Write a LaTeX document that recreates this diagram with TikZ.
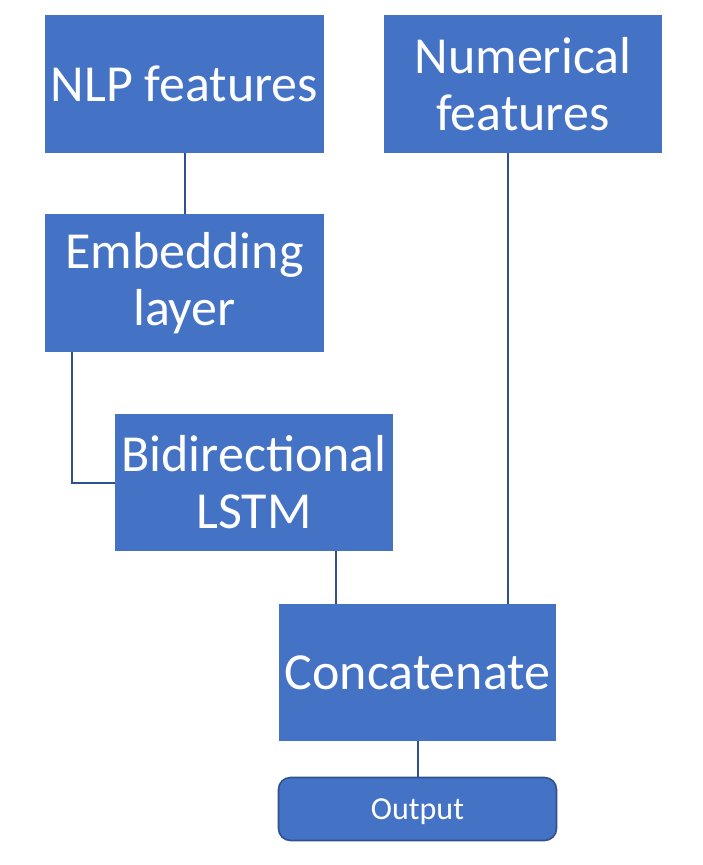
\documentclass[tikz,border=0pt]{standalone}
\usepackage{fontspec}
\setmainfont{Carlito}
\definecolor{boxblue}{HTML}{4472C4}
\definecolor{lineblue}{HTML}{2F528F}
\begin{document}
\begin{tikzpicture}[x=0.75pt,y=-0.75pt,
  box/.style={fill=boxblue, draw=none, text=white, align=center, inner sep=0pt,
    font=\fontsize{39pt}{42.75pt}\selectfont},
  outbox/.style={fill=boxblue, draw=lineblue, line width=1.2pt, rounded corners=9pt,
    text=white, align=center, inner sep=0pt, font=\fontsize{24pt}{28pt}\selectfont},
  link/.style={draw=lineblue, line width=1.5pt}]
\useasboundingbox (0,0) rectangle (703,865);
\node[box, minimum width=209.25pt, minimum height=103.5pt] (nlp) at (184.5,84) {NLP features};
\node[box, minimum width=208.5pt, minimum height=103.5pt] (num) at (523,84) {Numerical\\features};
\node[box, minimum width=209.25pt, minimum height=103.5pt] (emb) at (184.5,283) {Embedding\\layer};
\node[box, minimum width=208.5pt, minimum height=102.75pt] (lstm) at (254,482.5) {Bidirectional\\LSTM};
\node[box, minimum width=207.75pt, minimum height=102.75pt] (cat) at (417.5,672.5) {Concatenate};
\node[outbox, minimum width=208.5pt, minimum height=47.25pt] (out) at (417.5,809) {\raisebox{-2.5pt}[17pt][6pt]{Output}};
\draw[link] (nlp.south) -- (emb.north);
\draw[link] ([xshift=20.25pt]emb.south west) |- (lstm.west);
\coordinate (lb) at ([xshift=-42.75pt]lstm.south east);
\draw[link] (lb) -- (lb |- cat.north);
\coordinate (nb) at ([xshift=-11.25pt]num.south);
\draw[link] (nb) -- (nb |- cat.north);
\draw[link] (cat.south) -- (out.north);
\end{tikzpicture}
\end{document}
